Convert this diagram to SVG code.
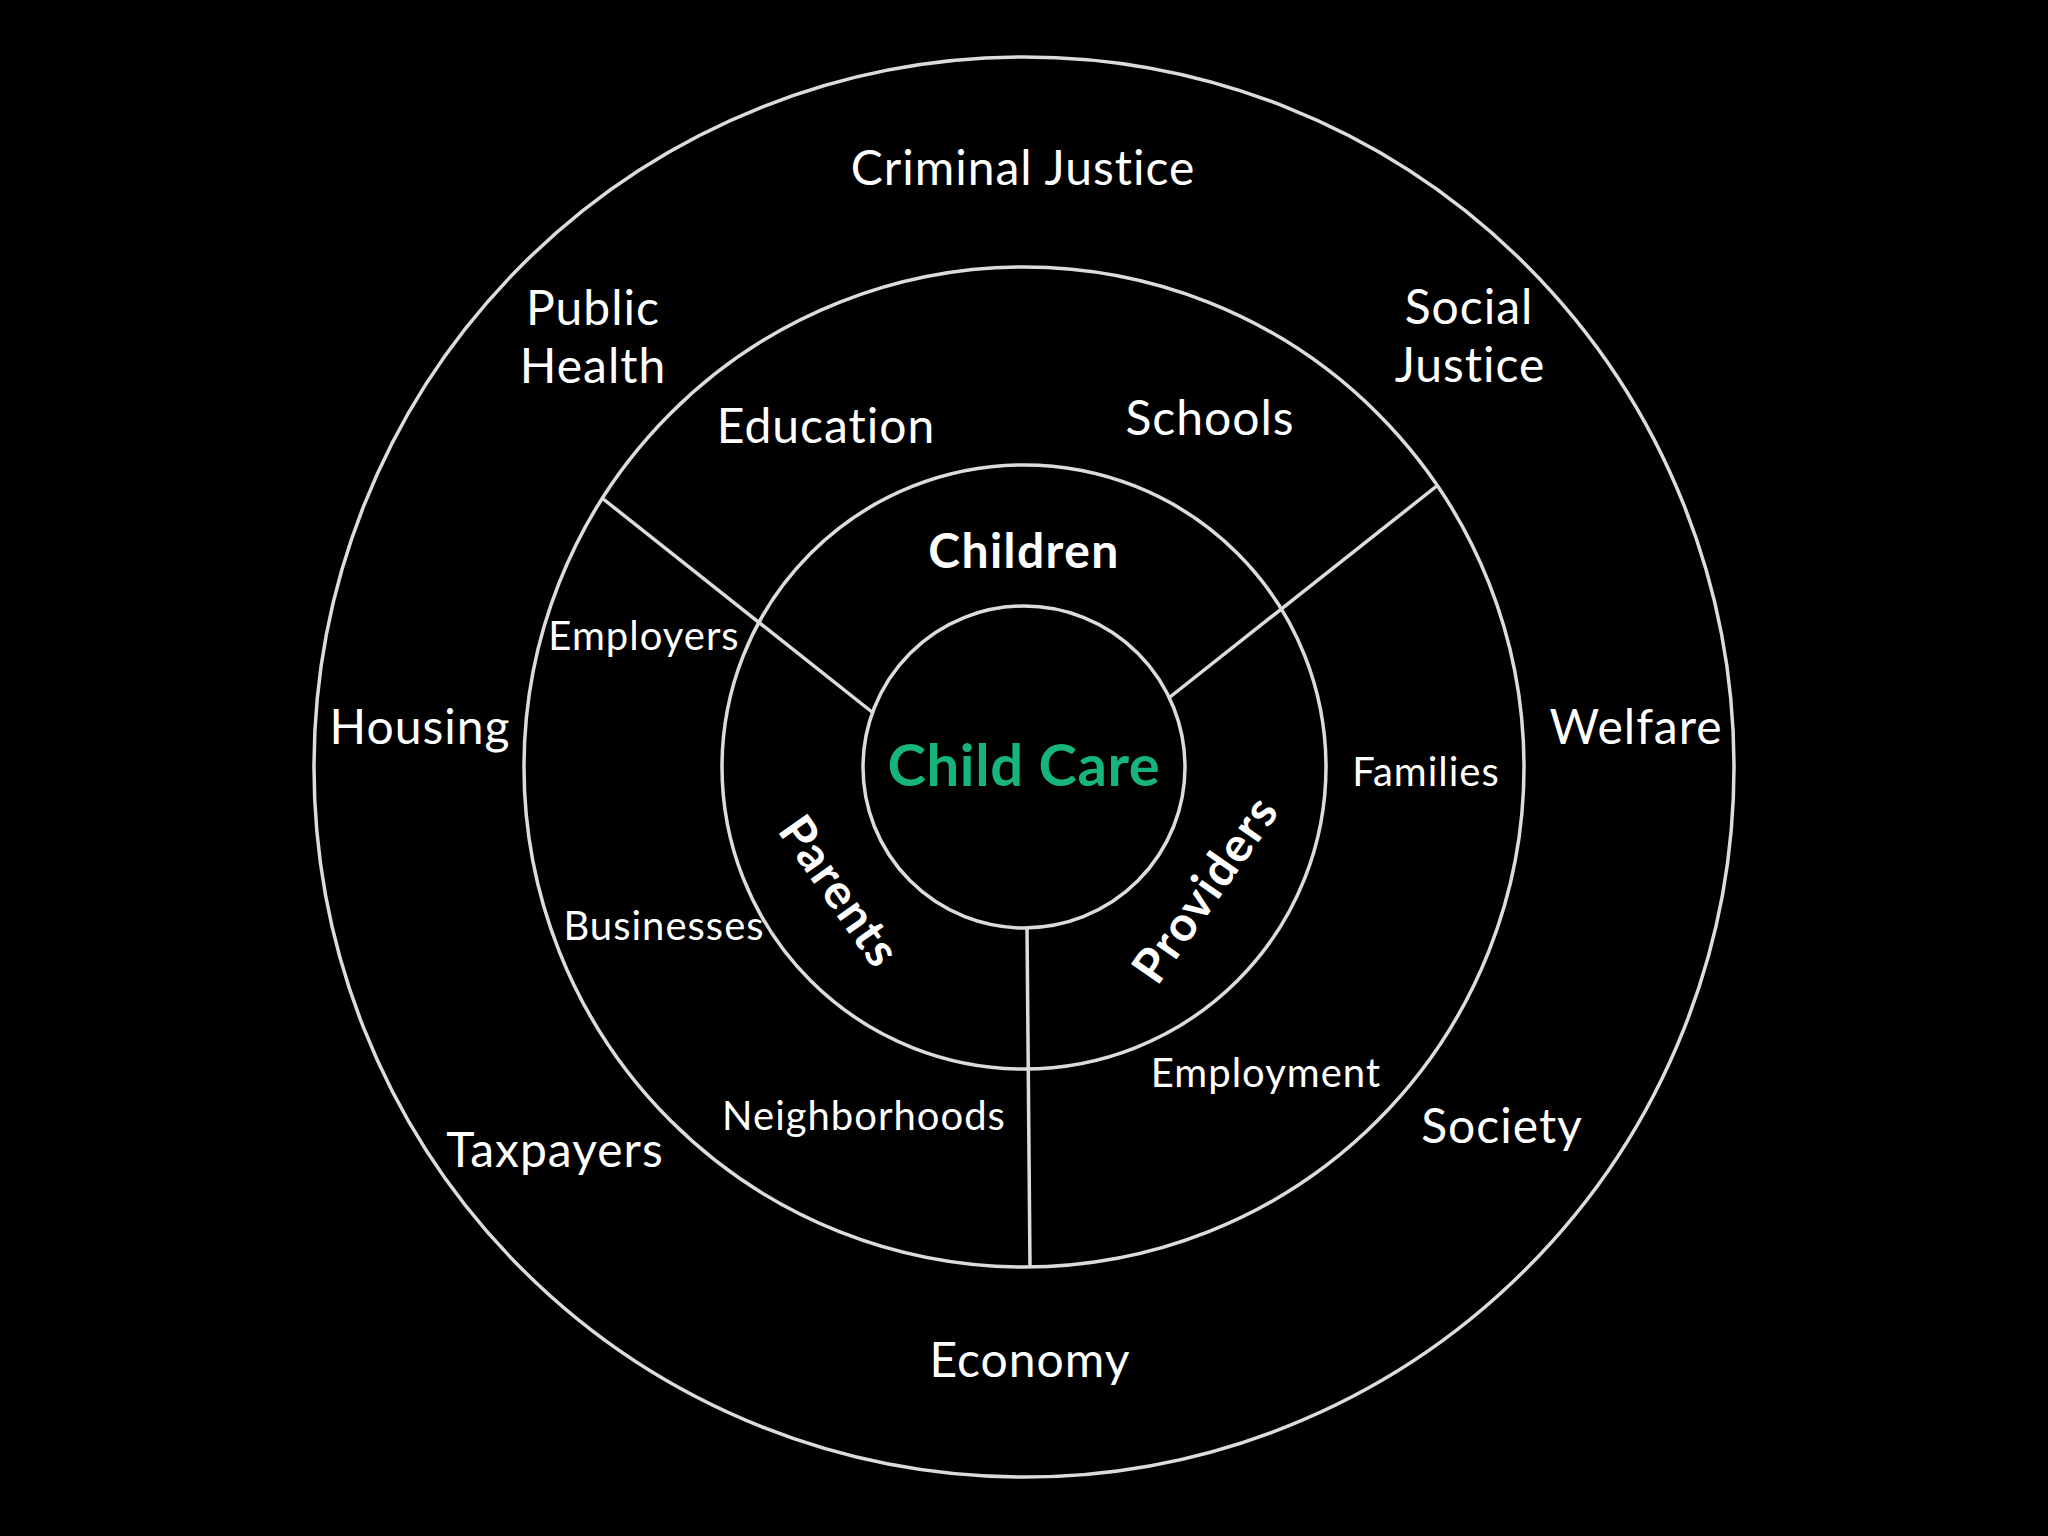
<svg xmlns="http://www.w3.org/2000/svg" width="2048" height="1536" viewBox="0 0 2048 1536">
<style>
.ring{fill:none;stroke:#dcdcdc;stroke-width:3.5}
.conn{stroke:#dcdcdc;stroke-width:3.5;fill:none}
text{font-family:Lato,"Noto Sans","Liberation Sans",sans-serif;text-anchor:middle;font-variant-ligatures:none;font-feature-settings:"liga" 0}
.lg{font-size:48px;letter-spacing:1px;fill:#ffffff}
.sm{font-size:40px;letter-spacing:1px;fill:#ffffff}
.bd{font-size:48px;letter-spacing:1.4px;font-weight:bold;fill:#ffffff}
.core{font-size:58px;letter-spacing:0.6px;font-weight:bold;fill:#17b57b}
</style>
<rect x="0" y="0" width="2048" height="1536" fill="#000000"/>
<g id="ring-outer">
<circle class="ring" cx="1024" cy="767" r="710"/>
<text class="lg" x="1023" y="185">Criminal Justice</text>
<text class="lg" x="593" y="325">Public</text>
<text class="lg" x="593" y="383">Health</text>
<text class="lg" x="1469" y="324">Social</text>
<text class="lg" x="1470" y="382">Justice</text>
<text class="lg" x="420" y="744">Housing</text>
<text class="lg" x="1636" y="744">Welfare</text>
<text class="lg" x="555" y="1167">Taxpayers</text>
<text class="lg" x="1502" y="1143">Society</text>
<text class="lg" x="1030" y="1377">Economy</text>
</g>
<g id="ring-community">
<circle class="ring" cx="1024" cy="767" r="500"/>
<text class="lg" x="826" y="443">Education</text>
<text class="lg" x="1210" y="435">Schools</text>
<text class="sm" x="644" y="650">Employers</text>
<text class="sm" x="1426" y="786">Families</text>
<text class="sm" x="664" y="940">Businesses</text>
<text class="sm" x="1266" y="1087">Employment</text>
<text class="sm" x="864" y="1130">Neighborhoods</text>
</g>
<g id="ring-stakeholders">
<circle class="ring" cx="1024" cy="767" r="302"/>
<text class="bd" x="1024" y="568">Children</text>
<text class="bd" transform="translate(840,891) rotate(55)" x="0" y="17">Parents</text>
<text class="bd" transform="translate(1205,889) rotate(-55)" x="0" y="17">Providers</text>
</g>
<g id="core">
<circle class="ring" cx="1024" cy="767" r="161"/>
<text class="core" x="1024" y="786">Child Care</text>
</g>
<g id="connectors">
<line class="conn" x1="872" y1="712" x2="602" y2="498"/>
<line class="conn" x1="1170" y1="697" x2="1438" y2="485"/>
<line class="conn" x1="1027" y1="928" x2="1030" y2="1266"/>
</g>
</svg>
